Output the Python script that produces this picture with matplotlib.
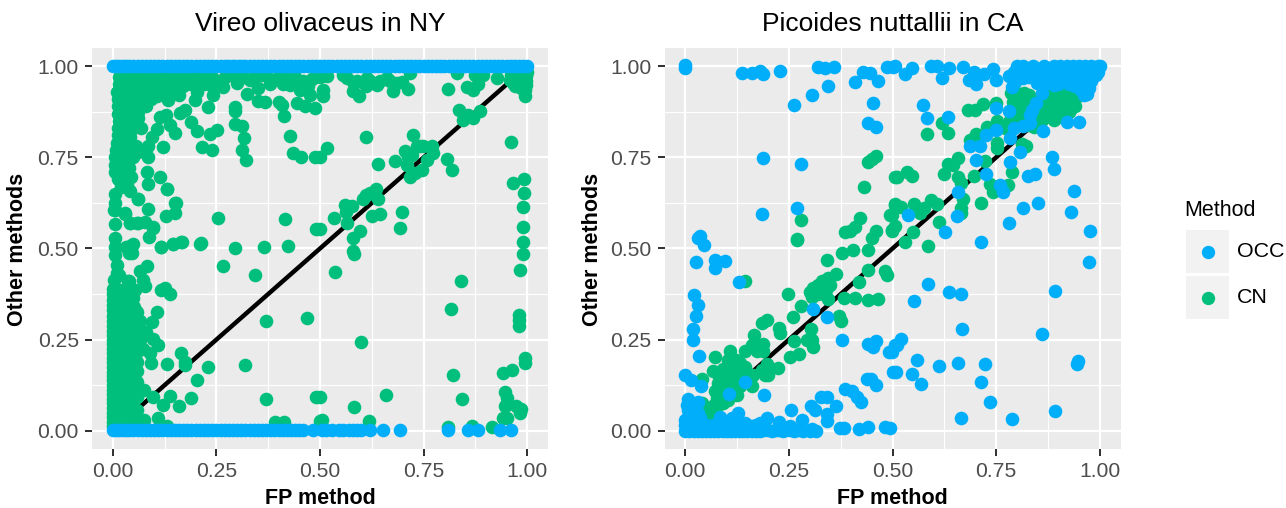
import matplotlib
matplotlib.use("Agg")
import matplotlib.pyplot as plt
from matplotlib.lines import Line2D
from matplotlib.patches import Rectangle

plt.rcParams['font.family'] = ['Liberation Sans', 'DejaVu Sans']

OCC_COLOR = '#00AEFA'
CN_COLOR = '#00BF7D'

titles = ['Vireo olivaceus in NY', 'Picoides nuttallii in CA']
ticks = [0, 0.25, 0.5, 0.75, 1.0]
tick_labels = ['0.00', '0.25', '0.50', '0.75', '1.00']
minor_ticks = [0.125, 0.375, 0.625, 0.875]
diagonal = [0, 1]

vo_occ_top_x = [0.0, .008, .016, .024, .032, .04, .05, .06, .07, .08, .09, .1, .11, .12, .13, .14, .15, .16,
                .17, .18, .19, .2, .21, .22, .23, .24, .25, .26, .27, .279, .287, .296, .304, .312, .32, .33,
                .34, .35, .36, .37, .38, .39, .4, .41, .42, .43, .44, .45, .46, .47, .48, .49, .5, .51, .52,
                .53, .54, .55, .56, .57, .58, .59, .6, .61, .62, .63, .64, .65, .66, .67, .68, .69, .7, .71,
                .72, .73, .74, .75, .76, .77, .78, .79, .8, .81, .82, .83, .84, .85, .86, .87, .88, .89, .9,
                .91, .92, .93, .94, .95, .96, .97, .98, .99, 1.0]
vo_occ_bottom_x = [0.0, .008, .016, .024, .032, .04, .05, .06, .07, .08, .09, .1, .11, .12, .13, .14, .15, .16,
                   .17, .18, .19, .2, .21, .22, .23, .24, .25, .26, .27, .28, .29, .3, .31, .32, .33, .34, .35,
                   .36, .37, .38, .39, .4, .41, .42, .43, .44, .45, .46, .484, .505, .515, .53, .545, .555, .57,
                   .58, .59, .6, .62, .653, .693, .808, .857, .882, .934, .961]
vo_occ_top_y = 1.0
vo_occ_bottom_y = 0.001

vo_cn_upper = [
    (.174,.955),(.204,.93),(.199,.908),(.231,.888),(.174,.88),(.162,.873),(.129,.867),(.114,.86),
    (.138,.839),(.15,.816),(.106,.827),(.062,.857),(.068,.83),(.19,.848),(.203,.821),(.251,.824),
    (.235,.814),(.215,.778),(.239,.771),(.122,.778),(.094,.807),(.086,.78),(.086,.752),(.082,.711),
    (.114,.695),(.13,.663),(.084,.676),(.04,.72),(.06,.636),(.152,.626),(.15,.597),(.128,.588),
    (.086,.609),(.255,.585),(.416,.582),(.49,.554),(.098,.558),(.088,.531),(.164,.519),(.145,.512),
    (.116,.504),(.214,.515),(.295,.501),(.366,.503),(.423,.507),(.062,.571),(.042,.571),(.078,.574),
    (.03,.595),(.006,.567),(.006,.649),(.006,.624),(.006,.606),(.006,.53),(.006,.505),(.046,.51),
    (.034,.504),(.046,.487),(.134,.908),(.106,.917),(.114,.935),(.146,.935),(.241,.921),(.267,.944),
    (.296,.889),(.296,.876),(.296,.842),(.311,.835),(.317,.802),(.312,.771),(.321,.743),(.428,.809),
    (.436,.761),(.453,.752),(.488,.75),(.412,.864),(.444,.9),(.4,.903),(.408,.894),(.351,.905),
    (.367,.901),(.323,.924),(.464,.891),(.488,.885),(.351,.94),(.331,.963),(.299,.953),(.428,.949),
    (.452,.935),(.476,.921),
    (.002,.606),(.03,.597),(.042,.569),(.058,.569),(.098,.556),(.006,.483),(.032,.503),(.048,.512),
    (.04,.487),(.117,.504),(.145,.513),(.166,.519),(.21,.513),(.15,.626),(.13,.663),(.06,.635),(.042,.659),
]
# solid mass directly under the top row and down the left edge
vo_cn_band = [
    (.015,.97),(.03,.975),(.045,.97),(.06,.97),(.075,.975),(.09,.97),(.105,.97),(.12,.975),(.135,.97),(.15,.97),
    (.165,.975),(.18,.97),(.195,.975),(.21,.97),(.225,.965),(.24,.97),(.255,.96),(.27,.97),(.285,.975),(.3,.965),
    (.315,.97),(.34,.97),(.36,.975),(.38,.965),(.4,.97),(.42,.965),(.44,.97),(.46,.96),(.48,.965),(.5,.97),
    (.015,.95),(.03,.955),(.045,.95),(.06,.945),(.075,.95),(.09,.955),(.105,.945),(.13,.95),(.15,.955),(.17,.945),
    (.19,.95),(.22,.95),(.24,.945),(.26,.955),(.38,.95),(.41,.95),(.44,.95),(.47,.945),
    (.01,.93),(.025,.93),(.04,.93),(.055,.925),(.07,.93),(.085,.925),(.1,.935),(.13,.93),(.16,.92),
    (.012,.91),(.028,.91),(.044,.905),(.06,.91),(.078,.905),(.092,.91),(.012,.89),(.028,.89),(.044,.885),(.06,.89),
    (.08,.89),(.012,.87),(.028,.87),(.044,.865),(.06,.875),(.015,.85),(.03,.85),(.045,.845),(.012,.83),(.028,.83),
    (.045,.825),(.012,.81),(.028,.81),(.042,.805),(.01,.79),(.025,.79),(.04,.785),(.055,.78),(.008,.77),(.024,.77),
    (.04,.765),(.06,.765),(.005,.75),(.02,.75),(.035,.745),(.05,.75),(.005,.73),(.02,.73),(.036,.725),(.005,.71),
    (.02,.705),(.012,.69),(.03,.69),(.045,.695),(.02,.67),(.035,.675),
]
vo_cn_lower = [
    (.267,.453),(.342,.428),(.082,.452),(.066,.437),(.074,.414),(.078,.396),(.04,.412),(.002,.414),
    (.01,.455),(.01,.432),(.116,.387),(.126,.391),(.137,.375),(.106,.325),(.094,.298),(.066,.302),
    (.058,.327),(.08,.27),(.098,.251),(.11,.236),(.074,.224),(.09,.213),(.092,.186),(.132,.183),
    (.164,.213),(.174,.19),(.174,.181),(.229,.175),(.32,.181),(.204,.138),(.189,.09),(.137,.096),
    (.121,.072),(.16,.067),(.096,.094),(.076,.112),(.058,.094),(.047,.076),(.058,.058),(.076,.03),
    (.11,.035),(.369,.087),(.37,.3),(.469,.309),(.49,.092),(.391,.024),(.414,.025),(.5,.027),
    (.13,.012),(.058,.163),(.058,.135),(.058,.19),(.066,.25),(.054,.387),(.038,.411),(.014,.428),
    (.0,.39),(.02,.385),(.04,.38),(.0,.36),(.02,.36),(.04,.355),(.0,.33),(.02,.335),(.04,.33),
    (.0,.3),(.02,.31),(.045,.305),(.0,.275),(.02,.28),(.042,.28),(.0,.25),(.02,.255),(.045,.25),
    (.0,.225),(.02,.23),(.045,.225),(.0,.2),(.02,.205),(.048,.2),(.0,.175),(.02,.18),(.045,.17),
    (.0,.15),(.02,.155),(.048,.145),(.0,.125),(.02,.13),(.04,.12),(.0,.1),(.02,.105),(.04,.095),
    (.0,.075),(.02,.08),(.04,.07),(.0,.05),(.02,.055),(.045,.045),(.0,.025),(.02,.03),(.042,.025),
    (.0,.375),(.012,.37),(.03,.37),(.05,.365),(.0,.345),(.012,.35),(.03,.345),(.052,.34),(.0,.315),(.012,.32),
    (.03,.32),(.05,.318),(.0,.288),(.012,.295),(.032,.292),(.055,.29),(.0,.262),(.012,.268),(.03,.268),(.052,.265),
    (.0,.238),(.012,.242),(.032,.24),(.055,.238),(.0,.212),(.012,.218),(.03,.215),(.055,.212),(.0,.188),(.012,.192),
    (.032,.19),(.052,.186),(.0,.162),(.012,.168),(.032,.165),(.05,.158),(.0,.138),(.012,.142),(.03,.14),(.05,.132),
    (.0,.112),(.012,.118),(.03,.115),(.05,.108),(.0,.088),(.012,.092),(.03,.09),(.05,.085),(.0,.062),(.012,.068),
    (.03,.065),(.05,.06),(.0,.038),(.012,.042),(.03,.042),(.052,.03),(.0,.012),(.012,.015),(.03,.015),(.055,.015),
]
vo_cn_right = [
    (.508,.935),(.508,.919),(.58,.931),(.595,.917),(.675,.932),(.713,.937),(.809,.938),(.855,.944),
    (.87,.935),(.882,.952),(.926,.967),(.994,.917),(.966,.953),(.982,.953),(.998,.972),(.998,.949),
    (.958,.963),(.974,.972),(.99,.981),(.564,.967),(.58,.958),(.604,.958),(.629,.953),(.638,.949),
    (.661,.967),(.697,.958),(.717,.981),(.83,.981),(.874,.976),(.894,.976),(.516,.972),(.556,.976),
    (.613,.967),(.59,.96),(.62,.96),(.645,.96),(.67,.96),(.685,.955),(.61,.945),
    (.612,.806),(.516,.777),(.725,.811),(.5,.752),(.641,.732),(.681,.741),(.705,.768),
    (.713,.752),(.709,.729),(.733,.78),(.749,.78),(.769,.78),(.773,.761),(.757,.743),(.745,.716),
    (.729,.707),(.718,.696),(.807,.746),(.818,.714),(.721,.757),(.741,.78),(.836,.88),(.886,.878),
    (.844,.853),(.87,.857),(.858,.867),(.611,.647),(.604,.635),(.634,.664),(.641,.635),(.62,.652),
    (.56,.62),(.576,.617),(.563,.601),(.534,.585),(.564,.571),(.626,.59),(.645,.595),(.699,.599),
    (.694,.555),(.596,.548),(.58,.53),(.58,.494),(.583,.484),(.536,.435),(.5,.554),(.961,.792),
    (.966,.681),(.993,.69),(.992,.652),(.99,.615),(.99,.558),(.989,.517),(.989,.486),(.982,.441),
    (.841,.411),(.815,.333),(.981,.318),(.981,.304),(.981,.288),(.6,.243),(.994,.199),(.994,.186),
    (.964,.167),(.942,.158),(.822,.154),(.843,.086),(.659,.097),(.581,.065),(.5,.094),(.946,.105),
    (.952,.09),(.946,.069),(.974,.069),(.984,.06),(.982,.05),(.942,.035),(.952,.035),(.619,.027),
    (.506,.03),(.808,.01),(.866,.012),(.916,.01),
    (.96,.975),(.975,.96),(.99,.965),(1.0,.985),(.985,.94),(.998,.96),(.97,.945),(.995,.935),
]

pn_occ = [
    (.046,.51),(.03,.53),(.025,.464),(.072,.469),(.096,.466),(.072,.446),(.13,.408),(.022,.373),
    (.03,.344),(.025,.316),(.019,.279),(.019,.25),(.034,.206),(0,.154),(.015,.14),(.039,.122),
    (.144,.133),(.106,.101),(.191,.099),(.308,.335),(.343,.311),(.378,.25),(.442,.239),(.452,.231),
    (.46,.245),(.492,.216),(.506,.236),(.502,.161),(.438,.142),(.448,.143),(.461,.126),(.386,.115),
    (.402,.108),(.414,.094),(.424,.078),(.328,.094),(.341,.094),(.304,.069),(.313,.058),(.364,.067),
    (.341,.047),(.341,.026),(.254,.058),(.007,.087),(.031,.08),(.007,.058),(.007,.039),(.035,.035),
    (.084,.037),(.128,.05),(.112,.035),(.198,.035),(.226,.023),(.281,.03),(.374,.007),(.382,.007),
    (.42,.006),(.44,.009),(.482,.01),(.305,.005),(.277,.003),(.253,.014),(.225,.003),(.2,.001),
    (.164,.001),(.18,.021),(.144,.021),(.494,.007),
    (.005,.07),(.012,.05),(.02,.03),(.03,.05),(.0,.03),(.0,.015),(.0,.0),(.01,.0),(.02,.0),(.03,.0),(.04,.0),
    (.05,.0),(.06,.0),(.07,.0),(.08,.0),(.09,.0),(.1,.0),(.11,.0),(.12,.0),(.13,.0),(.14,.0),(.15,.0),
    (.16,.0),(.17,.0),(.18,.0),(.19,.002),(.01,.015),(.02,.015),(.03,.015),(.04,.015),(.05,.015),(.06,.012),
    (.07,.015),(.08,.012),(.09,.015),(.1,.012),(.11,.015),(.12,.012),(.13,.015),(.14,.012),(.15,.015),
    (.16,.012),(.17,.015),(.21,.0),(.22,.002),(.235,.0),(.25,.002),(.262,.0),(.27,.002),(.285,.0),(.3,.0),(.315,.0),
    (0,1.004),(0,.995),(.136,.981),(.162,.981),(.18,.988),(.188,.979),(.229,.988),(.321,.999),
    (.337,.995),(.359,.999),(.345,.946),(.305,.921),(.263,.894),(.43,.984),(.446,.981),(.41,.958),
    (.466,.96),(.454,.899),(.44,.844),(.46,.832),(.188,.748),(.279,.732),(.186,.594),(.269,.611),
    (.035,.533),(.486,.999),(.502,.999),
    (.506,1.001),(.547,.995),(.531,.979),(.592,1.001),(.607,1.001),(.637,.995),(.619,.967),(.67,.999),
    (.684,.963),(.696,.984),(.701,.951),(.72,.978),(.742,.992),(.75,.963),(.78,.972),(.792,.985),
    (.8,1.001),(.816,1.001),(.84,1.001),(.865,1.0),(.816,.967),(.796,.958),(.788,.944),(.848,.953),
    (.865,.958),(.889,.949),(.913,.967),(.937,.972),(.961,.921),(.969,.944),(.861,.926),(.845,.899),
    (.837,.88),(.832,.867),(.574,.894),(.584,.859),(.634,.86),(.75,.885),(.781,.876),(.921,.846),
    (.949,.848),(.863,.823),(.792,.83),(.816,.836),(.832,.844),(.784,.804),(.75,.824),(.725,.812),
    (.688,.78),(.71,.78),(.702,.743),(.726,.704),(.807,.766),(.783,.737),(.884,.752),(.889,.718),
    (.826,.7),(.843,.705),(.76,.675),(.767,.654),(.939,.659),(.657,.654),(.656,.59),(.537,.592),
    (.816,.612),(.852,.624),(.931,.599),(.782,.571),(.977,.547),(.626,.544),(.713,.519),
    (.88,.98),(.86,.98),(.83,.97),(.85,.99),(.87,.99),(.89,.99),(.905,.99),(.92,.99),(.935,.99),(.95,.99),(.965,.99),
    (.98,.99),(.89,1.0),(.905,1.0),(.92,1.0),(.935,1.0),(.95,1.0),(.965,1.0),(.98,1.0),(.995,1.0),
    (.9,.975),(.915,.975),(.93,.975),(.945,.975),(.96,.98),(.975,.985),(.99,.99),(1,1),(.94,.96),(.955,.965),
    (.97,.97),(.985,.975),(.95,.945),(.965,.955),(.98,.96),(.975,.94),
    (.875,.965),(.89,.965),(.905,.96),(.92,.96),(.88,.955),(.9,.95),(.925,.95),(.94,.945),(.955,.935),(.97,.925),
    (.985,.99),(.995,.985),(.99,.975),(.978,.975),(.96,.97),(.945,.985),(.93,.985),(.915,.985),(.9,.985),(.875,.99),
    (.973,.462),(.893,.384),(.586,.402),(.637,.381),(.666,.376),(.553,.357),(.667,.28),(.86,.265),
    (.52,.252),(.511,.236),(.498,.215),(.56,.195),(.613,.177),(.657,.185),(.722,.182),(.947,.192),
    (.944,.183),(.508,.162),(.546,.155),(.568,.127),(.713,.134),(.736,.08),(.666,.036),(.789,.031),
    (.891,.054),
]
pn_cn = [
    (.144,.41),(.341,.469),(.378,.487),(.404,.495),(.44,.496),(.442,.44),(.482,.437),(.486,.428),
    (.42,.408),(.269,.524),(.364,.43),(.345,.419),(.329,.41),(.309,.391),(.305,.368),(.345,.362),
    (.249,.376),(.279,.343),(.26,.311),(.383,.364),(.41,.364),(.442,.359),(.466,.361),(.37,.314),
    (.376,.302),(.303,.28),(.184,.295),(.198,.304),(.227,.282),(.229,.268),(.166,.263),(.262,.245),
    (.293,.25),(.305,.25),(.308,.231),(.144,.219),(.16,.236),(.188,.238),(.172,.218),(.188,.218),
    (.108,.218),(.073,.202),(.104,.195),(.122,.195),(.132,.186),(.144,.176),(.275,.21),(.253,.202),
    (.198,.184),(.223,.172),(.192,.154),(.2,.154),(.184,.167),(.164,.154),(.16,.122),(.068,.163),
    (.04,.142),(.088,.144),(.12,.144),(.1,.131),(.072,.108),(.076,.09),(.104,.085),(.124,.099),
    (.132,.122),(.112,.122),(.04,.076),(.048,.058),(.064,.039),(.052,.035),(.088,.094),
    (.33,.39),(.32,.4),(.335,.375),(.32,.375),(.31,.38),(.35,.4),(.34,.385),(.3,.38),(.325,.385),
    (.09,.17),(.1,.16),(.11,.17),(.12,.165),(.1,.14),(.11,.13),(.13,.16),(.09,.12),(.08,.13),(.1,.11),
    (.12,.11),(.085,.1),(.06,.06),(.07,.07),(.08,.07),(.06,.04),(.05,.05),(.09,.075),(.13,.14),(.08,.155),(.14,.15),
    (.44,.736),(.45,.745),(.46,.754),(.506,.695),(.431,.67),(.279,.579),(.269,.527),(.506,.62),
    (.494,.592),(.422,.583),(.41,.559),(.386,.544),(.398,.547),(.46,.549),(.45,.528),(.498,.551),
    (.818,.926),(.786,.926),(.79,.903),(.8,.894),(.816,.876),(.848,.908),(.897,.917),(.913,.908),
    (.929,.88),(.889,.853),(.873,.88),(.861,.853),(.841,.834),(.897,.889),(.937,.926),(.957,.953),
    (.977,.963),(.913,.944),(.873,.899),(.8,.926),(.784,.853),(.792,.871),(.681,.88),(.699,.88),
    (.718,.896),(.75,.9),(.752,.85),(.772,.83),(.702,.814),(.688,.798),(.728,.833),(.752,.789),
    (.752,.775),(.821,.782),(.813,.787),(.619,.844),(.584,.814),(.635,.816),(.51,.695),(.536,.709),
    (.547,.7),(.635,.731),(.658,.748),(.647,.729),(.625,.705),(.658,.696),(.665,.679),(.697,.7),
    (.724,.739),(.788,.711),(.736,.677),(.778,.675),(.742,.654),(.669,.635),(.665,.611),(.665,.597),
    (.713,.624),(.506,.622),(.52,.615),(.552,.622),(.575,.611),(.567,.597),(.592,.633),(.607,.622),
    (.498,.592),(.506,.562),(.498,.549),(.613,.572),(.549,.544),(.531,.517),(.586,.508),
    (.9,.94),(.88,.92),(.86,.9),(.93,.95),(.95,.93),(.91,.89),(.85,.87),(.83,.86),(.88,.9),(.895,.9),(.9,.875),
    (.92,.92),(.94,.91),(.86,.88),(.87,.865),(.82,.9),(.84,.89),(.81,.86),(.83,.84),(.85,.85),(.88,.86),(.91,.86),
    (.96,.96),(.92,.9),(.805,.91),(.83,.92),(.87,.93),(.9,.91),(.925,.875),(.885,.875),(.855,.865),(.82,.84),
    (.94,.89),(.91,.925),
]


def split(points):
    return [p[0] for p in points], [p[1] for p in points]


W, H = 1286, 508
fig = plt.figure(figsize=(W / 100, H / 100), dpi=100, facecolor='white')


def panel(left_px, title, label_px):
    ax = fig.add_axes([left_px / W, (H - 449) / H, 456 / W, 401 / H], facecolor='#EBEBEB')
    ax.set_xlim(-0.05, 1.05)
    ax.set_ylim(-0.05, 1.05)
    ax.set_xticks(ticks, tick_labels)
    ax.set_yticks(ticks, tick_labels)
    ax.set_xticks(minor_ticks, minor=True)
    ax.set_yticks(minor_ticks, minor=True)
    ax.tick_params(which='major', length=5, width=1.45, color='#333333', labelcolor='#4D4D4D',
                   labelsize=15.2, pad=4.5)
    ax.tick_params(which='minor', length=0)
    ax.grid(which='major', color='white', linewidth=1.6, zorder=1)
    ax.grid(which='minor', color='white', linewidth=0.85, zorder=1)
    ax.set_axisbelow(True)
    for s in ax.spines.values():
        s.set_visible(False)
    ax.set_title(title, fontsize=19, color='black', pad=12)
    ax.plot(diagonal, diagonal, color='black', linewidth=3.2, solid_capstyle='butt', zorder=2)
    fig.text((left_px + 228) / W, (H - 498) / H, 'FP method', ha='center', va='center',
             fontsize=15.5, fontweight='bold')
    fig.text(label_px / W, (H - 249) / H, 'Other methods', ha='center', va='center',
             rotation=90, fontsize=15.5, fontweight='bold')
    return ax


SIZE = 96
ax1 = panel(92, titles[0], 18)
for pts in (vo_cn_upper, vo_cn_band, vo_cn_lower, vo_cn_right):
    x, y = split(pts)
    ax1.scatter(x, y, s=SIZE, color=CN_COLOR, linewidths=0, zorder=3)
ax1.scatter(vo_occ_top_x, [vo_occ_top_y] * len(vo_occ_top_x), s=SIZE, color=OCC_COLOR, linewidths=0, zorder=4)
ax1.scatter(vo_occ_bottom_x, [vo_occ_bottom_y] * len(vo_occ_bottom_x), s=SIZE, color=OCC_COLOR, linewidths=0, zorder=4)

ax2 = panel(664.5, titles[1], 592)
x, y = split(pn_cn)
ax2.scatter(x, y, s=SIZE, color=CN_COLOR, linewidths=0, zorder=3)
x, y = split(pn_occ)
ax2.scatter(x, y, s=SIZE, color=OCC_COLOR, linewidths=0, zorder=4)

# legend
fig.text(1184.5 / W, (H - 210) / H, 'Method', ha='left', va='center', fontsize=15.5)
for (top, color, name) in ((230, OCC_COLOR, 'OCC'), (276, CN_COLOR, 'CN')):
    fig.add_artist(Rectangle((1186 / W, (H - top - 43) / H), 43 / W, 43 / H, transform=fig.transFigure,
                             facecolor='#F2F2F2', edgecolor='none'))
    fig.add_artist(Line2D([1207.5 / W], [(H - top - 21.5) / H], transform=fig.transFigure, marker='o',
                          markersize=9.6, markerfacecolor=color, markeredgewidth=0, linestyle='none'))
    fig.text(1236.5 / W, (H - top - 21.5) / H, name, ha='left', va='center', fontsize=15.4)

fig.savefig('out.png', dpi=100, facecolor='white')
